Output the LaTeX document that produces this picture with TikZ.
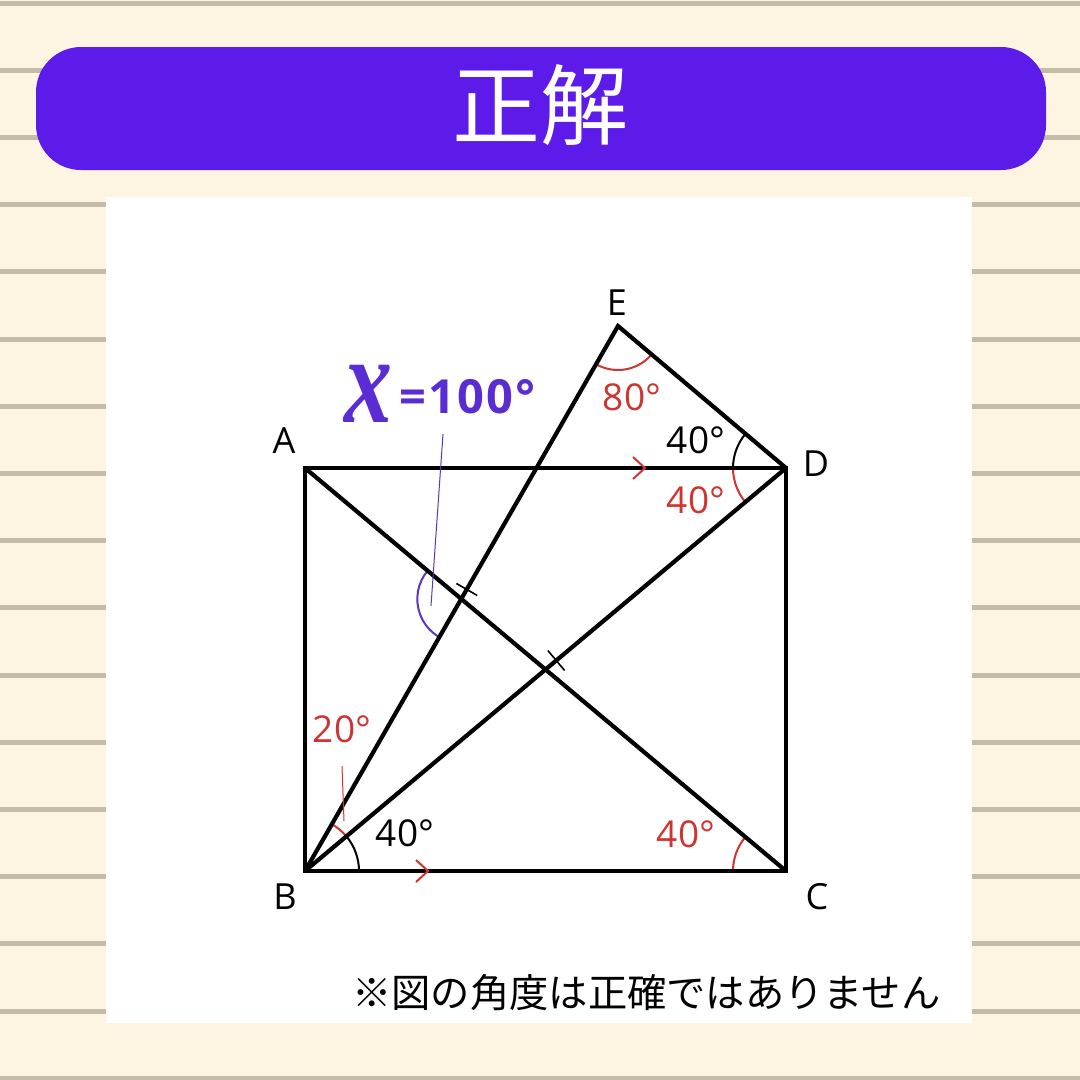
\documentclass[tikz,border=0pt]{standalone}
\usepackage{fontspec}
\setmainfont{Open Sans}
\newfontfamily\jp{Noto Sans CJK JP}
\newfontfamily\xserif{Liberation Serif}
\newfontfamily\xfont[LetterSpace=5]{Open Sans}
\usetikzlibrary{angles,calc}
\definecolor{cream}{HTML}{FDF4E1}
\definecolor{rule}{HTML}{C4BBA8}
\definecolor{banner}{HTML}{5C1BE8}
\definecolor{xpurple}{HTML}{5A2CD4}
\definecolor{arcpurple}{HTML}{5A36BE}
\definecolor{ansred}{HTML}{CF3530}
\tikzset{
  fig/.style={line width=4.2pt, black},
  lab/.style={font=\fontsize{36}{36}\selectfont, text=black, inner sep=0pt},
  anglab/.style={font=\fontsize{37}{37}\selectfont, inner sep=0pt},
  blackarc/.style={draw=black, line width=2pt, angle radius=54pt},
  redarc/.style={draw=ansred, line width=2pt, angle radius=54pt},
  chev/.style={draw=ansred, line width=2pt},
  tickmark/.style={draw=black, line width=1.6pt},
}
\begin{document}
\begin{tikzpicture}[x=1pt,y=-1pt]
\useasboundingbox (0,0) rectangle (1080,1080);
\fill[cream] (0,0) rectangle (1080,1080);
\foreach \i in {0,...,16} \fill[rule] (0,{0.5+\i*67.2}) rectangle (1080,{5.5+\i*67.2});
% banner
\fill[banner, rounded corners=45pt] (36,47) rectangle (1046,170);
\node[text=white, font=\jp\fontsize{88}{88}\selectfont, inner sep=0pt] (title) at (540,105) {正解};
% panel
\fill[white] (106,197) rectangle (972,1023);
% points
\coordinate (A) at (305,468);
\coordinate (D) at (786,468);
\coordinate (B) at (305,871);
\coordinate (C) at (786,871);
\coordinate (E) at (618,326);
\coordinate (P) at (intersection of B--E and A--C);
\coordinate (Q) at (intersection of A--C and B--D);
% angle arcs
\pic[blackarc] {angle=C--B--D};
\pic[redarc] {angle=D--B--E};
\pic[redarc, angle radius=53pt] {angle=A--C--B};
\pic[blackarc, angle radius=53pt] {angle=E--D--A};
\pic[redarc, angle radius=53pt] {angle=A--D--B};
\pic[redarc, angle radius=44pt] {angle=B--E--D};
\pic[draw=arcpurple, line width=2pt, angle radius=44pt] {angle=A--P--B};
% figure
\draw[fig] (A) -- (D) -- (C) -- (B) -- cycle;
\draw[fig] (A) -- (C);
\draw[fig] (B) -- (D);
\draw[fig, line join=miter] (B) -- (E) -- (D);
% ticks
\coordinate (T1) at ($(P)!11pt!(E)$);
\draw[tickmark] ($(T1)!12pt!90:(E)$) -- ($(T1)!12pt!-90:(E)$);
\coordinate (T2) at ($(Q)!14pt!(D)$);
\draw[tickmark] ($(T2)!13pt!90:(D)$) -- ($(T2)!13pt!-90:(D)$);
% parallel marks
\draw[chev] (633,457) -- (645,468) -- (633,479);
\draw[chev] (416,860) -- (428,871) -- (416,882);
% vertex labels
\node[lab] (lA) at (284,441) {A};
\node[lab] (lD) at (816,464) {D};
\node[lab] (lB) at (285,897) {B};
\node[lab] (lC) at (817,897) {C};
\node[lab] (lE) at (617,303) {E};
% angle labels
\node[anglab, text=ansred] (a80) at (632,397) {80°};
\node[anglab, text=black] (aD1) at (696,440) {40°};
\node[anglab, text=ansred] (aD2) at (696,500) {40°};
\node[anglab, text=ansred] (a20) at (342,729) {20°};
\node[anglab, text=black] (aB) at (405,833) {40°};
\node[anglab, text=ansred] (aC) at (686,834) {40°};
% x label
\node[text=xpurple, inner sep=0pt] (xs) at (368,394) {\scalebox{1}[1.3]{\xserif\bfseries\itshape\fontsize{96}{96}\selectfont x}};
\node[text=xpurple, font=\xfont\bfseries\fontsize{47}{47}\selectfont, inner sep=0pt, anchor=west] (xv) at (399,397) {=100°};
% leaders
\coordinate (L1a) at (443,434);
\coordinate (L1b) at (431,606);
\draw[arcpurple, line width=1pt] (L1a) -- (L1b);
\coordinate (L2a) at (342,766);
\coordinate (L2b) at (344,821);
\draw[ansred, line width=1pt] (L2a) -- (L2b);
% note
\node[font=\jp\fontsize{39.3}{39.3}\selectfont, inner sep=0pt, anchor=west] (note) at (352,993) {※図の角度は正確ではありません};
\end{tikzpicture}
\end{document}
